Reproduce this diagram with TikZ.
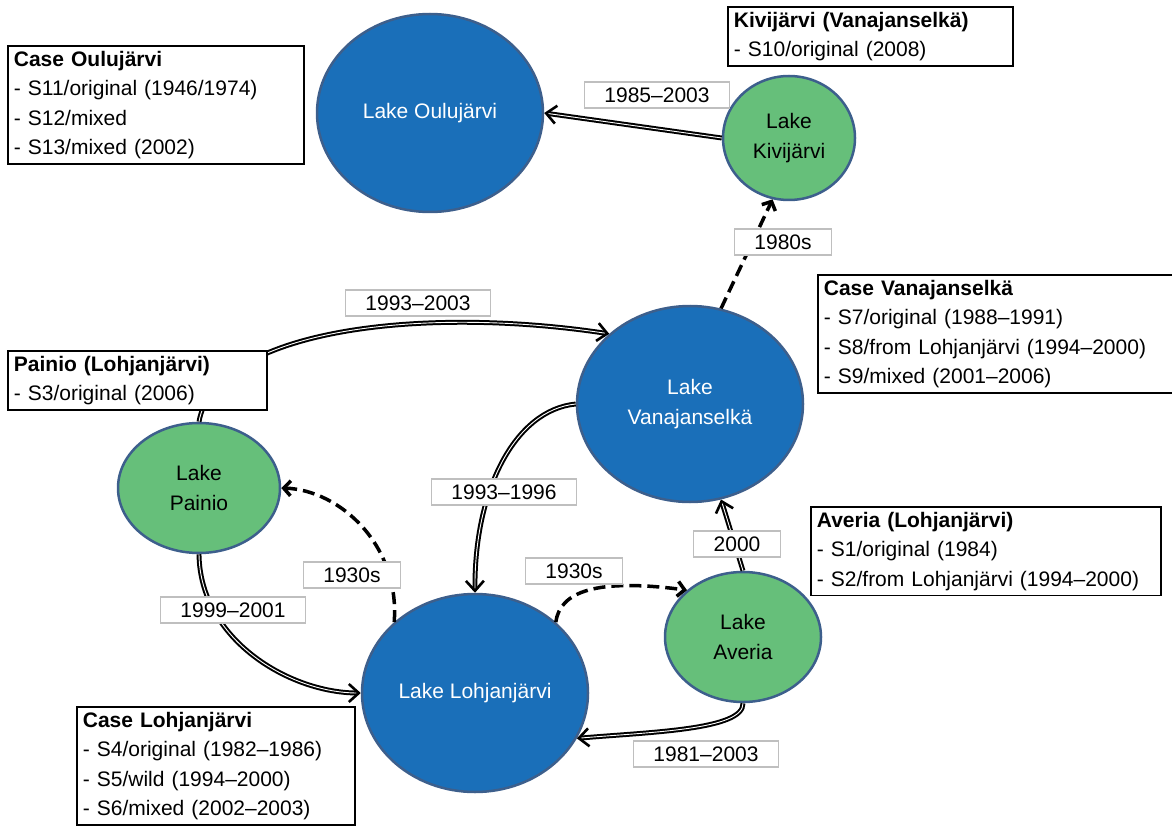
\documentclass[tikz,border=0pt]{standalone}
\usepackage{fontspec}
\setmainfont{Liberation Sans}
\usepackage{xcolor}
\usetikzlibrary{shapes,arrows,positioning,calc,arrows.meta}

\definecolor{lakeblue}{HTML}{1A6FB9}
\definecolor{lakegreen}{HTML}{66BF7A}
\definecolor{lakeedge}{HTML}{3D5F8C}
\definecolor{labelgray}{HTML}{BFBFBF}

\begin{document}
\begin{tikzpicture}[x=1pt,y=-1pt,
    every node/.style={font=\fontsize{21}{29.5}\selectfont},
    bluelake/.style={ellipse,draw=lakeedge,line width=2.5pt,fill=lakeblue,text=white,inner sep=0pt,align=center},
    greenlake/.style={ellipse,draw=lakeedge,line width=2.5pt,fill=lakegreen,text=black,inner sep=0pt,align=center},
    flow/.style={draw=black,double=white,line width=2pt,double distance=0.9pt,-{Straight Barb[length=10pt,width=18pt,line width=2.6pt]}},
    stock/.style={black,line width=3.5pt,dash pattern=on 12pt off 6pt,-{Straight Barb[length=7pt,width=15pt]}},
    yearbox/.style={draw=labelgray,line width=1.5pt,fill=white,inner xsep=20pt,inner ysep=2pt,minimum height=26pt},
    casebox/.style={draw=black,line width=1.8pt,fill=white,anchor=north west,align=left,inner xsep=6pt,inner ysep=5pt}
]
    \useasboundingbox (0,0) rectangle (1172,826);

    % lakes
    \node[bluelake, minimum width=226pt, minimum height=198pt] (oulu) at (430,113) {Lake Oulujärvi};
    \node[greenlake, minimum width=132pt, minimum height=124pt] (kivi) at (789,138) {Lake\\Kivijärvi};
    \node[bluelake, minimum width=226pt, minimum height=196pt] (vana) at (690,404) {Lake\\Vanajanselkä};
    \node[greenlake, minimum width=162pt, minimum height=130pt] (painio) at (199,488) {Lake\\Painio};
    \node[bluelake, minimum width=226pt, minimum height=198pt] (lohja) at (475,693) {Lake Lohjanjärvi};
    \node[greenlake, minimum width=156pt, minimum height=130pt] (averia) at (743,637) {Lake\\Averia};

    % transfers
    \draw[flow] (kivi.west) -- (oulu.east);
    \draw[stock] (vana.72) -- (kivi.-105);
    \draw[flow] (painio.north) .. controls (215,330) and (420,305) .. (vana.north west);
    \draw[flow] (vana.west) .. controls (515,410) and (474,490) .. (lohja.north);
    \draw[stock] (lohja.north west) .. controls (400,545) and (340,490) .. (painio.east);
    \draw[stock] (lohja.north east) .. controls (560,592) and (595,578) .. (averia.north west);
    \draw[flow] (averia.north) -- (vana.-72);
    \draw[flow] (painio.south) .. controls (200,640) and (290,693) .. (lohja.west);
    \draw[flow] (averia.south) .. controls (744,730) and (650,732) .. (lohja.-24);

    % years
    \node[yearbox] (yKivi) at (657,95) {1985–2003};
    \node[yearbox] (yVanaKivi) at (783,242) {1980s};
    \node[yearbox] (yPainioVana) at (418,303) {1993–2003};
    \node[yearbox] (yVanaLohja) at (504,492) {1993–1996};
    \node[yearbox] (yAveria) at (737,544) {2000};
    \node[yearbox] (yLohjaPainio) at (352,575) {1930s};
    \node[yearbox] (yLohjaAveria) at (574,571) {1930s};
    \node[yearbox] (yPainio) at (233,610) {1999–2001};
    \node[yearbox] (yAveriaLohja) at (706,754) {1981–2003};

    % cases
    \node[casebox, text width=284pt] (caseOulu) at (7,45)
        {\textbf{Case Oulujärvi}\\- S11/original (1946/1974)\\- S12/mixed\\- S13/mixed (2002)};
    \node[casebox, text width=273pt] (caseKivi) at (727,6)
        {\textbf{Kivijärvi (Vanajanselkä)}\\- S10/original (2008)};
    \node[casebox, text width=343pt] (caseVana) at (817,274)
        {\textbf{Case Vanajanselkä}\\- S7/original (1988–1991)\\- S8/from Lohjanjärvi (1994–2000)\\- S9/mixed (2001–2006)};
    \node[casebox, text width=247pt] (casePainio) at (7,350)
        {\textbf{Painio (Lohjanjärvi)}\\- S3/original (2006)};
    \node[casebox, text width=338pt] (caseAveria) at (810,506)
        {\textbf{Averia (Lohjanjärvi)}\\- S1/original (1984)\\- S2/from Lohjanjärvi (1994–2000)};
    \node[casebox, text width=266pt] (caseLohja) at (76,706)
        {\textbf{Case Lohjanjärvi}\\- S4/original (1982–1986)\\- S5/wild (1994–2000)\\- S6/mixed (2002–2003)};
\end{tikzpicture}
\end{document}
